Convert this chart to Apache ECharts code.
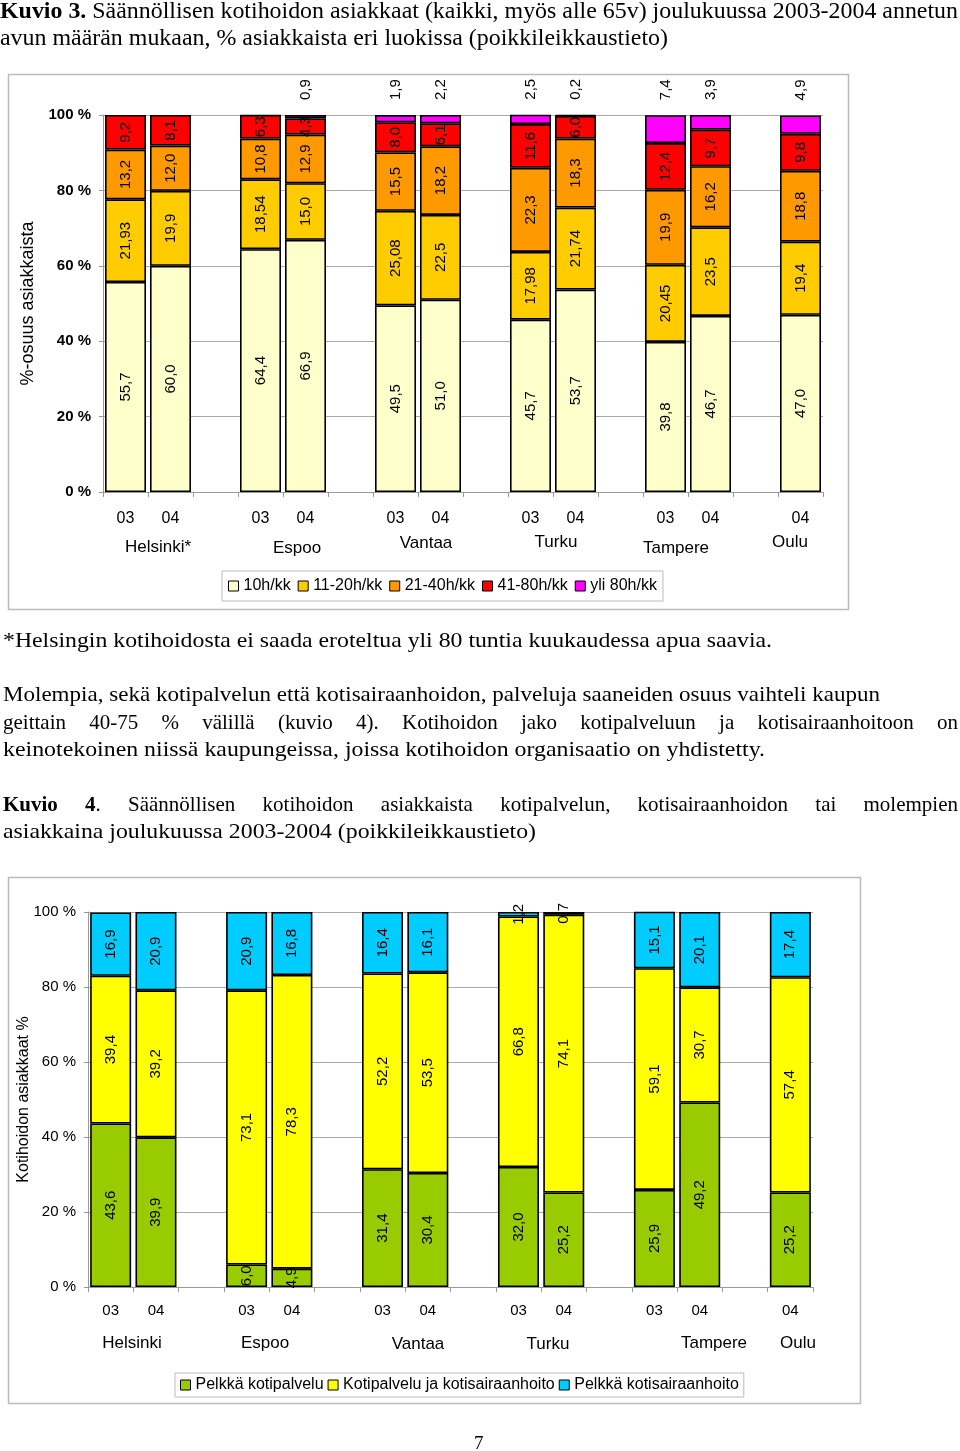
<!DOCTYPE html>
<html><head><meta charset="utf-8">
<script src="https://cdn.jsdelivr.net/npm/echarts@6/dist/echarts.min.js"></script>
<style>
html,body{margin:0;padding:0;background:#fff;}
body{width:960px;height:1451px;position:relative;overflow:hidden;font-family:"Liberation Serif","Times New Roman",serif;color:#000;}
#chart{position:absolute;left:0;top:0;width:960px;height:1451px;}
.t{position:absolute;font-size:21px;line-height:26px;white-space:nowrap;transform-origin:0 50%;}
.j{white-space:normal;text-align:justify;text-align-last:justify;}
b{font-weight:bold;}
</style></head>
<body>
<div id="chart"></div>
<div class="t fit" data-w="958" style="left:0;top:-2px;font-size:23px;"><b>Kuvio 3.</b> Säännöllisen kotihoidon asiakkaat (kaikki, myös alle 65v) joulukuussa 2003-2004 annetun</div>
<div class="t fit" data-w="668" style="left:0;top:25px;font-size:23px;">avun määrän mukaan, % asiakkaista eri luokissa (poikkileikkaustieto)</div>
<div class="t fit" data-w="769" style="left:3px;top:627px;">*Helsingin kotihoidosta ei saada eroteltua yli 80 tuntia kuukaudessa apua saavia.</div>
<div class="t fit" data-w="877" style="left:3px;top:681px;">Molempia, sekä kotipalvelun että kotisairaanhoidon, palveluja saaneiden osuus vaihteli kaupun</div>
<div class="t j" style="left:3px;top:709px;width:955px;">geittain 40-75 % välillä (kuvio 4). Kotihoidon jako kotipalveluun ja kotisairaanhoitoon on</div>
<div class="t fit" data-w="762" style="left:3px;top:736px;">keinotekoinen niissä kaupungeissa, joissa kotihoidon organisaatio on yhdistetty.</div>
<div class="t j" style="left:3px;top:791px;width:955px;"><b>Kuvio 4</b>. Säännöllisen kotihoidon asiakkaista kotipalvelun, kotisairaanhoidon tai molempien</div>
<div class="t fit" data-w="533" style="left:3px;top:818px;">asiakkaina joulukuussa 2003-2004 (poikkileikkaustieto)</div>
<div class="t" style="left:474px;top:1430px;font-size:19px;">7</div>
<script>
// ---------- Chart 1 data (Kuvio 3) ----------
const slotKeys = ['H03','H04','g1','E03','E04','g2','V03','V04','g3','T03','T04','g4','Ta03','Ta04','g5','O04'];
const tickLabels = ['03','04','','03','04','','03','04','','03','04','','03','04','','04'];
const cities1 = ['Helsinki*','Espoo','Vantaa','Turku','Tampere','Oulu'];
const cities2 = ['Helsinki','Espoo','Vantaa','Turku','Tampere','Oulu'];
const seriesNames1 = ['10h/kk','11-20h/kk','21-40h/kk','41-80h/kk','yli 80h/kk'];
const h10    = [55.7, 60.0, null, 64.4, 66.9, null, 49.5, 51.0, null, 45.7, 53.7, null, 39.8, 46.7, null, 47.0];
const h11_20 = [21.93,19.9, null, 18.54,15.0, null, 25.08,22.5, null, 17.98,21.74,null, 20.45,23.5, null, 19.4];
const h21_40 = [13.2, 12.0, null, 10.8, 12.9, null, 15.5, 18.2, null, 22.3, 18.3, null, 19.9, 16.2, null, 18.8];
const h41_80 = [9.2,  8.1,  null, 6.3,  4.3,  null, 8.0,  6.1,  null, 11.6, 6.0,  null, 12.4, 9.7,  null, 9.8];
const h80    = [null, null, null, null, 0.9,  null, 1.9,  2.2,  null, 2.5,  0.2,  null, 7.4,  3.9,  null, 4.9];
// ---------- Chart 2 data (Kuvio 4) ----------
const seriesNames2 = ['Pelkkä kotipalvelu','Kotipalvelu ja kotisairaanhoito','Pelkkä kotisairaanhoito'];
const onlyHome  = [43.6, 39.9, null, 6.0,  4.9,  null, 31.4, 30.4, null, 32.0, 25.2, null, 25.9, 49.2, null, 25.2];
const both      = [39.4, 39.2, null, 73.1, 78.3, null, 52.2, 53.5, null, 66.8, 74.1, null, 59.1, 30.7, null, 57.4];
const onlyNurse = [16.9, 20.9, null, 20.9, 16.8, null, 16.4, 16.1, null, 1.2,  0.7,  null, 15.1, 20.1, null, 17.4];
const yTicks = [0, 20, 40, 60, 80, 100];

// fit non-justified text lines to reference widths
document.querySelectorAll('.fit').forEach(el => {
  const w = el.getBoundingClientRect().width;
  el.style.transform = 'scaleX(' + (parseFloat(el.dataset.w) / w) + ')';
});

function fmt(v) { return (Number.isInteger(v) ? v.toFixed(1) : String(v)).replace('.', ','); }
const SANS = '"Liberation Sans", Arial, sans-serif';
const colors1 = ['#FFFFCC', '#FFCC00', '#FF9900', '#FF0000', '#FF00FF'];
const colors2 = ['#99CC00', '#FFFF00', '#00CCFF'];

function mkSeries(name, data, color, xi, stack, top) {
  return {
    name, type: 'bar', stack, xAxisIndex: xi, yAxisIndex: xi, data, barWidth: 41,
    itemStyle: { color, borderColor: '#000', borderWidth: 1.6 },
    label: top ? {
      show: true, position: 'top', distance: 15, rotate: 90, align: 'left', verticalAlign: 'middle',
      formatter: p => p.value == null ? '' : fmt(p.value), fontSize: 15, color: '#000', fontFamily: SANS
    } : {
      show: true, position: 'inside', rotate: 90,
      formatter: p => p.value == null ? '' : fmt(p.value), fontSize: 15, color: '#000', fontFamily: SANS
    },
    emphasis: { disabled: true }, animation: false
  };
}

function xAx(gi, margin, fs) {
  return {
    type: 'category', gridIndex: gi, data: slotKeys,
    axisLine: { lineStyle: { color: '#999', width: 1 } },
    axisTick: { show: true, length: 5, lineStyle: { color: '#999' } },
    axisLabel: { formatter: (v, i) => tickLabels[i], margin, fontSize: fs, color: '#000', fontFamily: SANS, interval: 0 }
  };
}
function yAx(gi, name, nameGap, nfs, bold) {
  return {
    type: 'value', gridIndex: gi, min: yTicks[0], max: yTicks[yTicks.length - 1], interval: 20,
    name, nameLocation: 'middle', nameGap, nameRotate: 90, nameMoveOverlap: false,
    nameTextStyle: { fontSize: nfs, fontFamily: SANS, color: '#000' },
    axisLine: { show: true, lineStyle: { color: '#999' } },
    axisTick: { show: true, length: 4, lineStyle: { color: '#999' } },
    axisLabel: { formatter: '{value} %', margin: 12, fontSize: 15, fontWeight: bold ? 'bold' : 'normal', color: '#000', fontFamily: SANS },
    splitLine: { show: true, lineStyle: { color: '#aaa', width: 1 } }
  };
}

const cityPos1 = [[158, 547], [297, 548], [426, 543], [556, 542], [676, 548], [790, 542]];
const cityPos2 = [[132, 1343], [265, 1343], [418, 1344], [548, 1344], [714, 1343], [798, 1343]];
const graphics = [
  { type: 'rect', shape: { x: 8.5, y: 74.5, width: 840, height: 535 }, style: { fill: 'none', stroke: '#bbb', lineWidth: 1.5 }, z: -1 },
  { type: 'rect', shape: { x: 8.5, y: 877.5, width: 852, height: 526 }, style: { fill: 'none', stroke: '#bbb', lineWidth: 1.5 }, z: -1 }
];
cities1.forEach((c, i) => graphics.push({ type: 'text', x: cityPos1[i][0], y: cityPos1[i][1],
  style: { text: c, fontSize: 17, fontFamily: SANS, fill: '#000', align: 'center', verticalAlign: 'middle' } }));
cities2.forEach((c, i) => graphics.push({ type: 'text', x: cityPos2[i][0], y: cityPos2[i][1],
  style: { text: c, fontSize: 17, fontFamily: SANS, fill: '#000', align: 'center', verticalAlign: 'middle' } }));

const chart = echarts.init(document.getElementById('chart'), null, { renderer: 'canvas' });
chart.setOption({
  animation: false,
  backgroundColor: 'transparent',
  grid: [
    { left: 103, right: 137, top: 115, bottom: 1451 - 492 },
    { left: 88, right: 147, top: 912, bottom: 1451 - 1287 }
  ],
  xAxis: [xAx(0, 19, 16), xAx(1, 16, 15)],
  yAxis: [yAx(0, '%-osuus asiakkaista', 66, 18, true), yAx(1, 'Kotihoidon asiakkaat %', 56, 16, false)],
  legend: [
    { data: seriesNames1, left: 222, top: 571, itemWidth: 10, itemHeight: 10, itemGap: 7, icon: 'rect',
      borderColor: '#bbb', borderWidth: 1, padding: [7, 6], textStyle: { fontSize: 16, fontFamily: SANS, color: '#000' },
      itemStyle: { borderColor: '#000', borderWidth: 1 }, selectedMode: false },
    { data: seriesNames2, left: 175, top: 1373, itemWidth: 10, itemHeight: 10, itemGap: 4, icon: 'rect',
      borderColor: '#bbb', borderWidth: 1, padding: [4, 5], textStyle: { fontSize: 16, fontFamily: SANS, color: '#000' },
      itemStyle: { borderColor: '#000', borderWidth: 1 }, selectedMode: false }
  ],
  graphic: graphics,
  series: [
    mkSeries(seriesNames1[0], h10, colors1[0], 0, 's1'),
    mkSeries(seriesNames1[1], h11_20, colors1[1], 0, 's1'),
    mkSeries(seriesNames1[2], h21_40, colors1[2], 0, 's1'),
    mkSeries(seriesNames1[3], h41_80, colors1[3], 0, 's1'),
    mkSeries(seriesNames1[4], h80, colors1[4], 0, 's1', true),
    mkSeries(seriesNames2[0], onlyHome, colors2[0], 1, 's2'),
    mkSeries(seriesNames2[1], both, colors2[1], 1, 's2'),
    mkSeries(seriesNames2[2], onlyNurse, colors2[2], 1, 's2')
  ]
});
</script>
</body></html>
